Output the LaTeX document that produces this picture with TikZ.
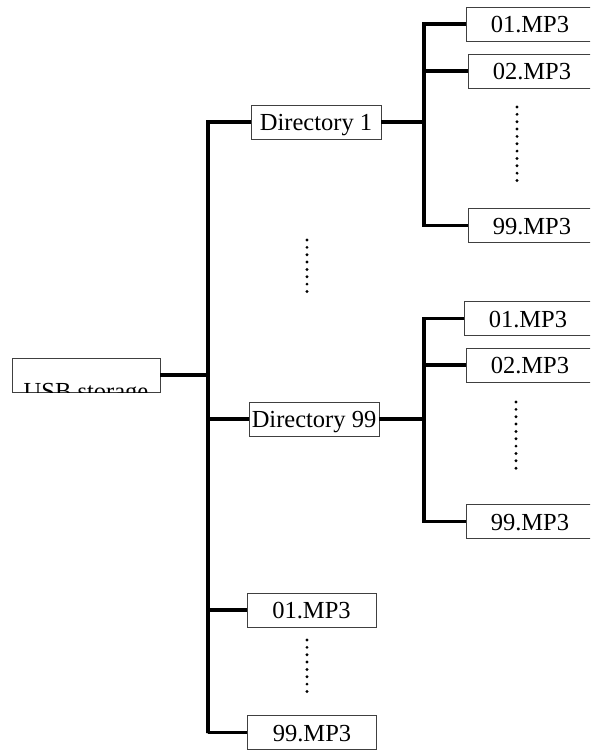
\documentclass[tikz,border=0pt]{standalone}
\usepackage{fontspec}
\setmainfont{Liberation Serif}
\usepackage{tikz}
\usetikzlibrary{positioning}

\begin{document}
\begin{tikzpicture}[
    x=1pt, y=-1pt,
    box/.style={
        draw=black!75,
        line width=0.9pt,
        inner sep=0pt,
        minimum height=34pt,
        text height=17pt,
        text depth=0pt,
        font=\fontsize{24.5}{28}\selectfont
    },
    dirbox/.style={
        box,
        minimum width=130pt
    },
    filebox/.style={
        box,
        minimum width=129pt
    },
    widebox/.style={
        box,
        minimum width=127pt,
        anchor=west
    },
    trunk/.style={line width=3.9pt},
    dots/.style={line width=3.2pt, line cap=round, dash pattern=on 0pt off 7.35pt}
]
\clip (0,0) rectangle (590,750);

% root
\node[box, minimum width=148pt] (usb) at (86,375) {};
\begin{scope}
    \clip (usb.south west) rectangle (usb.north east);
    \node[font=\fontsize{24.5}{28}\selectfont, anchor=base, inner sep=0pt] (usbtext) at (86,399) {USB storage};
\end{scope}

% first level
\node[dirbox] (dir1) at (316,122) {Directory 1};
\node[dirbox] (dir99) at (314,419) {Directory 99};
\node[filebox] (root01) at (311.5,610) {01.MP3};
\node[filebox] (root99) at (312,732.5) {99.MP3};
\coordinate (spine) at (208,733);

\draw[trunk] (usb.east) -- (usb.east -| spine);
\draw[trunk] (dir1.west) -| (spine) |- (root99.west);
\draw[trunk] (spine |- dir99.west) -- (dir99.west);
\draw[trunk] (spine |- root01.west) -- (root01.west);

% files of directory 1
\node[widebox] (a01) at (466,24) {01.MP3};
\node[widebox] (a02) at (468,71) {02.MP3};
\node[widebox] (a99) at (468,225.5) {99.MP3};
\coordinate (subA) at (424,24);

\draw[trunk] (dir1.east) -- (dir1.east -| subA);
\draw[trunk] (a01.west) -| (subA) |- (a99.west);
\draw[trunk] (subA |- a02.west) -- (a02.west);

% files of directory 99
\node[widebox] (b01) at (464,318.5) {01.MP3};
\node[widebox] (b02) at (466,365) {02.MP3};
\node[widebox] (b99) at (466,521.5) {99.MP3};
\coordinate (subB) at (424,319);

\draw[trunk] (dir99.east) -- (dir99.east -| subB);
\draw[trunk] (b01.west) -| (subB) |- (b99.west);
\draw[trunk] (subB |- b02.west) -- (b02.west);

% omitted entries
\draw[dots] (517,107) -- (517,181);
\draw[dots] (307,240) -- (307,298);
\draw[dots] (516,402) -- (516,475);
\draw[dots] (307,640) -- (307,698);
\end{tikzpicture}
\end{document}
